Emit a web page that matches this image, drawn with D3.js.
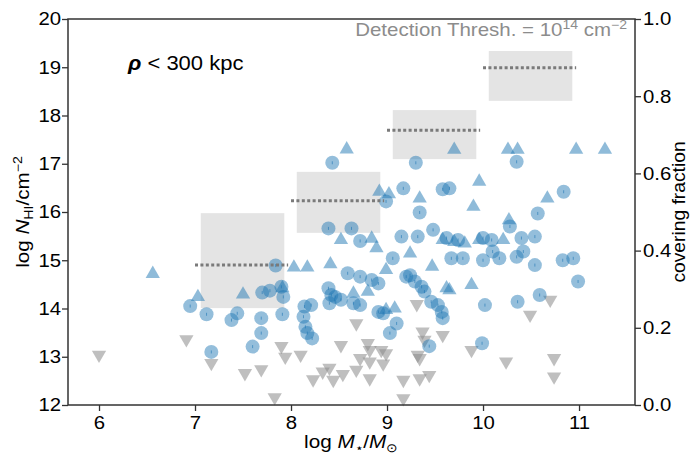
<!DOCTYPE html>
<html><head><meta charset="utf-8">
<script src="https://cdn.jsdelivr.net/npm/d3@7"></script>
<style>
body{margin:0;background:#fff}
text{font-family:"Liberation Sans",Arial,Helvetica,sans-serif}
</style>
</head><body>
<svg id="chart" width="694" height="456"></svg>
<script>
// Detections: log stellar mass vs log N_HI
const detX=[6.95,7.12,7.17,7.38,7.44,7.60,7.69,7.69,7.70,7.78,7.84,7.90,7.92,7.91,8.14,8.21,8.13,8.15,8.17,8.22,
  8.39,8.42,8.40,8.52,8.39,8.59,8.43,8.63,8.72,8.72,8.84,8.91,8.46,8.65,8.72,8.91,8.96,9.10,9.03,9.06,
  9.20,9.29,9.36,9.39,9.46,9.53,9.57,9.58,9.44,9.15,9.32,9.48,9.62,9.74,10.00,10.09,10.28,10.40,10.54,9.67,
  9.79,10.00,10.10,10.17,10.35,10.42,10.54,10.83,10.94,10.99,10.02,10.36,10.59,9.99,10.35,10.84,10.57,9.65,9.30,8.99,
  9.17,9.58,9.34,9.24];
const detY=[14.05,13.88,13.10,13.76,13.90,13.21,13.49,13.80,14.33,14.37,14.89,14.45,14.24,13.88,14.04,14.07,13.83,13.62,13.49,13.38,
  14.42,14.28,14.11,14.18,15.66,14.73,17.02,15.66,15.40,14.66,14.59,14.52,14.24,14.11,14.07,13.93,13.90,13.69,13.49,15.04,
  14.66,14.56,14.45,14.35,14.14,14.07,13.93,13.80,13.22,15.49,15.49,15.63,15.46,15.42,15.46,15.42,15.70,15.46,15.49,15.04,
  15.04,15.00,15.18,15.04,15.07,15.18,14.90,15.00,15.04,14.56,14.07,14.14,14.28,13.28,17.04,16.42,15.97,16.49,17.02,16.22,
  16.49,16.47,15.99,14.69];

// Saturated absorbers (lower limits)
const lowX=[6.56,7.03,7.50,7.91,8.03,8.17,8.41,8.52,8.58,8.65,8.80,8.99,9.08,9.24,9.47,9.65,8.84,8.89,9.58,9.70,
  9.81,9.96,10.21,8.99,9.62,9.88,9.70,10.26,10.36,10.97,11.27,9.96,9.90,10.67,10.27,8.92,9.02,9.34];
const lowY=[14.72,14.24,14.29,14.42,14.85,14.85,14.92,15.42,17.30,14.31,14.35,13.97,14.00,15.14,14.87,14.38,15.45,15.25,15.42,15.38,
  15.35,15.42,15.42,14.80,14.42,14.49,17.29,17.29,17.29,17.29,17.29,16.63,16.11,16.28,15.83,16.42,16.37,16.28];

// Non-detections (upper limits)
const upX=[6.00,6.91,7.17,7.52,7.69,7.83,7.90,7.94,8.10,8.23,8.33,8.40,8.44,8.52,8.54,8.68,8.80,8.82,8.72,8.82,
  8.94,8.99,8.96,8.68,8.82,9.17,9.34,9.44,9.17,9.31,9.37,9.39,9.32,9.34,9.58,9.88,10.24,10.49,10.70,10.74,10.74];
const upY=[13.04,13.36,12.87,12.66,12.74,12.16,13.22,13.00,13.04,12.53,12.69,12.77,12.52,13.24,12.64,13.69,13.28,13.14,12.97,12.90,
  13.14,13.07,12.86,12.73,12.55,12.52,12.55,12.62,12.14,14.09,13.52,13.35,13.04,12.97,13.45,13.14,12.90,13.87,14.18,12.97,12.59];

// Covering fraction per mass bin (right axis)
const binLo=[7,8,9,10];
const cfVal=[0.363,0.529,0.712,0.874];
const cfLo=[0.251,0.446,0.637,0.788];
const cfHi=[0.497,0.604,0.764,0.917];

const xTicks=[6,7,8,9,10,11];
const yTicks=[12,13,14,15,16,17,18,19,20];
const y2Ticks=[0,0.2,0.4,0.6,0.8,1.0];

const L=68,R=635,T=19,B=405;
const svg=d3.select("#chart");
const x=d3.scaleLinear().domain([5.677,11.583]).range([L,R]);
const y=d3.scaleLinear().domain([12,20]).range([B,T]);
const y2=d3.scaleLinear().domain([0,1]).range([B,T]);

const blue="#1f77b4", axisCol="#333";

// widen glyphs horizontally about the text anchor point
function widen(sel,s){
  sel.each(function(){
    const t=d3.select(this);
    const ax=+t.attr("x")||0, ay=+t.attr("y")||0;
    const pre=t.attr("data-pre")||"";
    t.attr("transform",`${pre} translate(${ax},${ay}) scale(${s},1) translate(${-ax},${-ay})`);
  });
}

// shaded covering-fraction ranges
const bins=binLo.map((lo,i)=>({lo,v:cfVal[i],a:cfLo[i],b:cfHi[i]}));
svg.append("g").selectAll("rect").data(bins).join("rect")
  .attr("x",d=>x(d.lo+0.06)).attr("width",d=>x(d.lo+0.93)-x(d.lo+0.06))
  .attr("y",d=>y2(d.b)).attr("height",d=>y2(d.a)-y2(d.b))
  .attr("fill","#e4e4e4");

// markers
const tri=d3.symbol(d3.symbolTriangle,88);
const gPts=svg.append("g");
gPts.selectAll(".dn").data(upX.map((v,i)=>[v,upY[i]])).join("path")
  .attr("d",tri).attr("transform",d=>`translate(${x(d[0])},${y(d[1])}) rotate(180)`)
  .attr("fill","#8a8a8a").attr("fill-opacity",0.55);
gPts.selectAll(".up").data(lowX.map((v,i)=>[v,lowY[i]])).join("path")
  .attr("d",tri).attr("transform",d=>`translate(${x(d[0])},${y(d[1])})`)
  .attr("fill",blue).attr("fill-opacity",0.5);
const det=detX.map((v,i)=>[v,detY[i]]);
gPts.selectAll(".c").data(det).join("circle")
  .attr("cx",d=>x(d[0])).attr("cy",d=>y(d[1])).attr("r",7)
  .attr("fill",blue).attr("fill-opacity",0.48);
gPts.selectAll(".e").data(det).join("line")
  .attr("x1",d=>x(d[0])).attr("x2",d=>x(d[0]))
  .attr("y1",d=>y(d[1])-1.5).attr("y2",d=>y(d[1])+1.5)
  .attr("stroke",blue).attr("stroke-width",1).attr("stroke-opacity",0.6);

// covering fraction values
svg.append("g").selectAll("line").data(bins).join("line")
  .attr("x1",d=>x(d.lo)).attr("x2",d=>x(d.lo+0.97))
  .attr("y1",d=>y2(d.v)).attr("y2",d=>y2(d.v))
  .attr("stroke","#7a7a7a").attr("stroke-width",3).attr("stroke-dasharray","3,2.4");

// axes
function styleAxis(g){
  g.selectAll(".domain").remove();
  g.selectAll(".tick line").attr("stroke",axisCol).attr("stroke-width",1.3);
  g.selectAll(".tick text").attr("fill","#000").style("font-size","18.5px")
   .style("font-family",'"Liberation Sans",Arial,sans-serif');
  widen(g.selectAll(".tick text"),1.1);
}
svg.append("g").attr("transform",`translate(0,${B})`)
  .call(d3.axisBottom(x).tickValues(xTicks).tickSize(6).tickPadding(5).tickFormat(d3.format("d")))
  .call(styleAxis);
svg.append("g").attr("transform",`translate(${L},0)`)
  .call(d3.axisLeft(y).tickValues(yTicks).tickSize(6).tickPadding(1).tickFormat(d3.format("d")))
  .call(styleAxis);
svg.append("g").attr("transform",`translate(${R},0)`)
  .call(d3.axisRight(y2).tickValues(y2Ticks).tickSize(6).tickPadding(2).tickFormat(d3.format(".1f")))
  .call(styleAxis);
svg.append("rect").attr("x",L).attr("y",T).attr("width",R-L).attr("height",B-T)
  .attr("fill","none").attr("stroke",axisCol).attr("stroke-width",1.5);

// labels
svg.append("text").attr("x",351).attr("y",448).attr("text-anchor","middle").style("font-size","18px")
  .call(t=>{t.append("tspan").text("log ");
    t.append("tspan").attr("font-style","italic").text("M");
    t.append("tspan").attr("dy",4).style("font-size","12px").text("\u22C6");
    t.append("tspan").attr("dy",-4).text("/");
    t.append("tspan").attr("font-style","italic").text("M");
    t.append("tspan").attr("dy",4).style("font-size","12px").text("\u2299");})
  .call(widen,1.15);

svg.append("text").attr("data-pre","translate(29,212) rotate(-90)").attr("text-anchor","middle").style("font-size","17.5px")
  .call(t=>{t.append("tspan").text("log ");
    t.append("tspan").attr("font-style","italic").text("N");
    t.append("tspan").attr("dy",4).style("font-size","12px").text("HI");
    t.append("tspan").attr("dy",-4).text("/cm");
    t.append("tspan").attr("dy",-7).style("font-size","12px").text("\u22122");})
  .call(widen,1.18);

svg.append("text").attr("data-pre","translate(685,212) rotate(-90)").attr("text-anchor","middle")
  .style("font-size","18px").text("covering fraction")
  .call(widen,1.07);

svg.append("text").attr("x",627).attr("y",36).attr("text-anchor","end").attr("fill","#8c8c8c").style("font-size","17.5px")
  .call(t=>{t.append("tspan").text("Detection Thresh. = 10");
    t.append("tspan").attr("dy",-7).style("font-size","12px").text("14");
    t.append("tspan").attr("dy",7).text(" cm");
    t.append("tspan").attr("dy",-7).style("font-size","12px").text("\u22122");})
  .call(widen,1.17);

svg.append("text").attr("x",128).attr("y",70).style("font-size","20px")
  .call(t=>{t.append("tspan").attr("font-style","italic").attr("font-weight","bold").text("\u03C1");
    t.append("tspan").text(" < 300 kpc");})
  .call(widen,1.1);
</script>
</body></html>
